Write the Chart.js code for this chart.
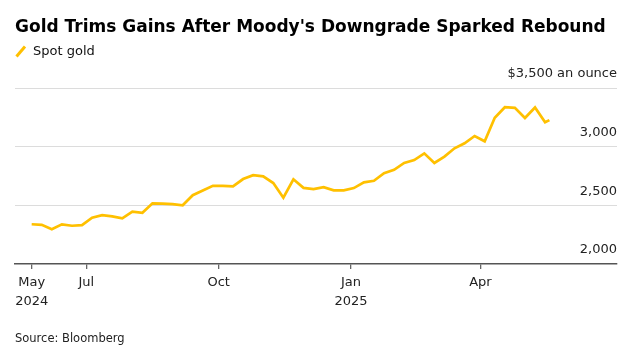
<!DOCTYPE html>
<html>
<head>
<meta charset="utf-8">
<script src="https://cdn.jsdelivr.net/npm/chart.js@4.4.1/dist/chart.umd.min.js"></script>
<style>
  html, body { margin: 0; padding: 0; background: #fff; }
  #wrap { position: relative; width: 640px; height: 356px; overflow: hidden; }
  #c { position: absolute; left: 0; top: 0; }
  .t { position: absolute; white-space: nowrap; font-family: "DejaVu Sans", sans-serif; }
  #title { left: 15px; top: 16px; font-size: 17px; line-height: 20px; font-weight: bold; color: #000; }
  #legend { left: 33px; top: 42.5px; font-size: 13px; line-height: 16px; color: #111; }
  #source { left: 15px; top: 331px; font-size: 11.5px; line-height: 14px; color: #222; }
  #swatch { position: absolute; left: 14px; top: 44px; }
</style>
</head>
<body>
<div id="wrap">
  <canvas id="c" width="640" height="356"></canvas>
  <div class="t" id="title">Gold Trims Gains After Moody's Downgrade Sparked Rebound</div>
  <svg id="swatch" width="14" height="15"><line x1="2.5" y1="12.5" x2="11" y2="2.5" stroke="#FFC000" stroke-width="3"/></svg>
  <div class="t" id="legend">Spot gold</div>
  <div class="t" id="source">Source: Bloomberg</div>
</div>
<script>
const startDate = '2024-05-24';
const dates = [
  '2024-05-24','2024-05-31','2024-06-07','2024-06-14','2024-06-21','2024-06-28',
  '2024-07-05','2024-07-12','2024-07-19','2024-07-26','2024-08-02','2024-08-09',
  '2024-08-16','2024-08-23','2024-08-30','2024-09-06','2024-09-13','2024-09-20',
  '2024-09-27','2024-10-04','2024-10-11','2024-10-18','2024-10-25','2024-11-01',
  '2024-11-08','2024-11-15','2024-11-22','2024-11-29','2024-12-06','2024-12-13',
  '2024-12-20','2024-12-27','2025-01-03','2025-01-10','2025-01-17','2025-01-24',
  '2025-01-31','2025-02-07','2025-02-14','2025-02-21','2025-02-28','2025-03-07',
  '2025-03-14','2025-03-21','2025-03-28','2025-04-04','2025-04-11','2025-04-18',
  '2025-04-25','2025-05-02','2025-05-09','2025-05-16','2025-05-19'
];
const spotGold = [
  2339, 2334, 2297, 2338, 2326, 2331,
  2395, 2416, 2406, 2389, 2446, 2436,
  2517, 2515, 2511, 2501, 2586, 2626,
  2666, 2665, 2662, 2724, 2757, 2747,
  2690, 2565, 2722, 2649, 2639, 2655,
  2628, 2628, 2647, 2696, 2709, 2774,
  2803, 2861, 2886, 2943, 2861, 2915,
  2986, 3029, 3091, 3046, 3246, 3336,
  3331, 3244, 3334, 3208, 3226
];
const xTickDates = ['2024-05-24','2024-07-01','2024-10-01','2025-01-01','2025-04-01'];
const xTickLabels = [['May','2024'],['Jul'],['Oct'],['Jan','2025'],['Apr']];
const yTickValues = [2000, 2500, 3000, 3500];
const yTickLabels = ['2,000', '2,500', '3,000', '$3,500 an ounce'];

const dayOf = d => (Date.parse(d) - Date.parse(startDate)) / 86400000;
const points = dates.map((d, i) => ({ x: dayOf(d), y: spotGold[i] }));
const xTickVals = xTickDates.map(dayOf);

const FONT = "'DejaVu Sans', sans-serif";

new Chart(document.getElementById('c'), {
  type: 'line',
  data: {
    datasets: [{
      label: 'Spot gold',
      data: points,
      borderColor: '#FFC000',
      borderWidth: 2.7,
      pointRadius: 0,
      tension: 0,
      fill: false,
      borderJoinStyle: 'miter'
    }]
  },
  options: {
    responsive: false,
    animation: false,
    devicePixelRatio: 1,
    layout: { padding: { left: 15, right: 23, top: 88, bottom: 0 } },
    plugins: { legend: { display: false }, title: { display: false }, tooltip: { enabled: false } },
    scales: {
      x: {
        type: 'linear',
        position: 'bottom',
        min: -11.6,
        max: 407,
        afterBuildTicks: s => { s.ticks = xTickVals.map(v => ({ value: v })); },
        afterFit: s => { s.height = 92; },
        ticks: {
          autoSkip: false,
          maxRotation: 0,
          padding: 5,
          color: '#222',
          font: { family: FONT, size: 13, lineHeight: 1.4 },
          callback: (v, i) => xTickLabels[i]
        },
        grid: { drawOnChartArea: false, drawTicks: true, tickLength: 5, color: '#666', lineWidth: 1.3 },
        border: { display: true, color: '#555', width: 1.6 }
      },
      y: {
        type: 'linear',
        position: 'right',
        min: 2000,
        max: 3500,
        afterBuildTicks: s => { s.ticks = yTickValues.map(v => ({ value: v })); },
        afterFit: s => { s.width = 0; },
        ticks: {
          mirror: true,
          padding: 0,
          labelOffset: -14,
          color: '#222',
          font: { family: FONT, size: 13 },
          callback: (v, i) => yTickLabels[i]
        },
        grid: {
          drawTicks: false,
          color: c => (c.tick && c.tick.value === 2000) ? 'rgba(0,0,0,0)' : '#dcdcdc',
          lineWidth: 1
        },
        border: { display: false }
      }
    }
  }
});
</script>
</body>
</html>
